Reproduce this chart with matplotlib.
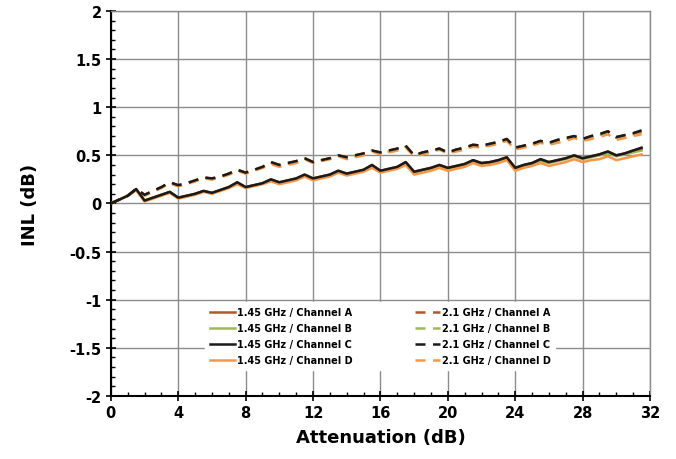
import matplotlib
matplotlib.use("Agg")
import matplotlib.pyplot as plt
from matplotlib.ticker import MultipleLocator

atten = [i * 0.5 for i in range(64)]

inl_145_a = [0.00, 0.04, 0.08, 0.15, 0.03, 0.06, 0.09, 0.12, 0.06, 0.08, 0.10, 0.13, 0.11, 0.14, 0.17, 0.22,
             0.17, 0.19, 0.21, 0.25, 0.22, 0.24, 0.26, 0.30, 0.26, 0.28, 0.30, 0.34, 0.31, 0.33, 0.35, 0.40,
             0.34, 0.36, 0.38, 0.43, 0.33, 0.35, 0.37, 0.40, 0.37, 0.39, 0.41, 0.45, 0.42, 0.43, 0.45, 0.48,
             0.37, 0.40, 0.42, 0.46, 0.43, 0.45, 0.47, 0.50, 0.47, 0.49, 0.51, 0.54, 0.50, 0.52, 0.55, 0.57]
inl_145_b = [0.00, 0.04, 0.08, 0.14, 0.03, 0.06, 0.09, 0.12, 0.06, 0.08, 0.10, 0.13, 0.11, 0.14, 0.17, 0.21,
             0.17, 0.19, 0.21, 0.25, 0.21, 0.23, 0.25, 0.29, 0.26, 0.28, 0.30, 0.33, 0.30, 0.32, 0.34, 0.39,
             0.33, 0.35, 0.37, 0.42, 0.32, 0.34, 0.36, 0.39, 0.36, 0.38, 0.40, 0.44, 0.41, 0.42, 0.44, 0.47,
             0.36, 0.39, 0.41, 0.44, 0.42, 0.44, 0.46, 0.49, 0.46, 0.48, 0.50, 0.52, 0.49, 0.51, 0.53, 0.55]
inl_145_c = [0.00, 0.04, 0.08, 0.15, 0.03, 0.06, 0.09, 0.12, 0.06, 0.08, 0.10, 0.13, 0.11, 0.14, 0.17, 0.22,
             0.17, 0.19, 0.21, 0.25, 0.22, 0.24, 0.26, 0.30, 0.26, 0.28, 0.30, 0.34, 0.31, 0.33, 0.35, 0.40,
             0.34, 0.36, 0.38, 0.43, 0.33, 0.35, 0.37, 0.40, 0.37, 0.39, 0.41, 0.45, 0.42, 0.43, 0.45, 0.48,
             0.37, 0.40, 0.42, 0.46, 0.43, 0.45, 0.47, 0.50, 0.47, 0.49, 0.51, 0.54, 0.50, 0.52, 0.55, 0.58]
inl_145_d = [0.00, 0.04, 0.08, 0.14, 0.02, 0.05, 0.08, 0.11, 0.05, 0.07, 0.09, 0.12, 0.10, 0.13, 0.16, 0.20,
             0.16, 0.18, 0.20, 0.23, 0.20, 0.22, 0.24, 0.28, 0.24, 0.26, 0.28, 0.32, 0.29, 0.31, 0.33, 0.37,
             0.32, 0.34, 0.36, 0.40, 0.30, 0.32, 0.34, 0.37, 0.34, 0.36, 0.38, 0.42, 0.39, 0.40, 0.42, 0.45,
             0.34, 0.37, 0.39, 0.42, 0.39, 0.41, 0.43, 0.46, 0.43, 0.45, 0.46, 0.49, 0.45, 0.47, 0.49, 0.51]

inl_21_a = [0.00, 0.04, 0.08, 0.15, 0.09, 0.13, 0.17, 0.22, 0.19, 0.21, 0.24, 0.27, 0.26, 0.28, 0.31, 0.35,
            0.32, 0.35, 0.38, 0.43, 0.40, 0.42, 0.44, 0.47, 0.43, 0.45, 0.47, 0.50, 0.48, 0.50, 0.52, 0.55,
            0.53, 0.55, 0.57, 0.60, 0.50, 0.53, 0.55, 0.57, 0.53, 0.56, 0.58, 0.61, 0.60, 0.62, 0.64, 0.67,
            0.58, 0.60, 0.62, 0.65, 0.63, 0.66, 0.68, 0.70, 0.67, 0.70, 0.72, 0.75, 0.69, 0.71, 0.73, 0.75]
inl_21_b = [0.00, 0.04, 0.08, 0.15, 0.09, 0.13, 0.17, 0.21, 0.18, 0.21, 0.23, 0.27, 0.25, 0.28, 0.30, 0.35,
            0.32, 0.35, 0.37, 0.42, 0.39, 0.41, 0.43, 0.47, 0.43, 0.45, 0.47, 0.50, 0.47, 0.49, 0.51, 0.55,
            0.52, 0.54, 0.56, 0.59, 0.50, 0.52, 0.54, 0.57, 0.53, 0.55, 0.57, 0.60, 0.59, 0.61, 0.63, 0.66,
            0.57, 0.59, 0.61, 0.64, 0.62, 0.65, 0.67, 0.69, 0.66, 0.69, 0.71, 0.74, 0.68, 0.70, 0.72, 0.74]
inl_21_c = [0.00, 0.04, 0.08, 0.15, 0.09, 0.13, 0.17, 0.22, 0.19, 0.21, 0.24, 0.27, 0.26, 0.28, 0.31, 0.35,
            0.32, 0.35, 0.38, 0.43, 0.40, 0.42, 0.44, 0.47, 0.43, 0.45, 0.47, 0.50, 0.48, 0.50, 0.52, 0.55,
            0.53, 0.55, 0.57, 0.60, 0.50, 0.53, 0.55, 0.57, 0.53, 0.56, 0.58, 0.61, 0.60, 0.62, 0.64, 0.67,
            0.58, 0.60, 0.62, 0.65, 0.63, 0.66, 0.68, 0.70, 0.67, 0.70, 0.72, 0.75, 0.69, 0.71, 0.73, 0.76]
inl_21_d = [0.00, 0.04, 0.08, 0.14, 0.08, 0.12, 0.16, 0.21, 0.18, 0.20, 0.23, 0.26, 0.25, 0.27, 0.30, 0.34,
            0.31, 0.34, 0.37, 0.41, 0.38, 0.40, 0.42, 0.46, 0.42, 0.44, 0.46, 0.49, 0.46, 0.48, 0.50, 0.54,
            0.51, 0.53, 0.55, 0.58, 0.49, 0.51, 0.53, 0.56, 0.52, 0.54, 0.56, 0.59, 0.58, 0.60, 0.62, 0.65,
            0.56, 0.58, 0.60, 0.63, 0.61, 0.63, 0.65, 0.68, 0.65, 0.67, 0.69, 0.72, 0.66, 0.68, 0.70, 0.72]

labels_145 = ["1.45 GHz / Channel A", "1.45 GHz / Channel B", "1.45 GHz / Channel C", "1.45 GHz / Channel D"]
labels_21 = ["2.1 GHz / Channel A", "2.1 GHz / Channel B", "2.1 GHz / Channel C", "2.1 GHz / Channel D"]
colors = ["#B5562B", "#9BBB59", "#1A1A1A", "#F79646"]

fig = plt.figure(figsize=(6.76, 4.6), dpi=100)
ax = fig.add_axes([0.164, 0.137, 0.7975, 0.837])

series_145 = [inl_145_a, inl_145_b, inl_145_c, inl_145_d]
series_21 = [inl_21_a, inl_21_b, inl_21_c, inl_21_d]
zorders = [3, 2, 5, 4]
h145, h21 = [], []
for vals, lab, col, z in zip(series_145, labels_145, colors, zorders):
    (ln,) = ax.plot(atten, vals, color=col, lw=1.8, label=lab, zorder=z)
    h145.append(ln)
for vals, lab, col, z in zip(series_21, labels_21, colors, zorders):
    (ln,) = ax.plot(atten, vals, color=col, lw=1.8, ls=(0, (4, 3)), label=lab, zorder=z)
    h21.append(ln)

ax.set_xlim(0, 32)
ax.set_ylim(-2, 2)
ax.xaxis.set_major_locator(MultipleLocator(4))
ax.xaxis.set_minor_locator(MultipleLocator(1))
ax.yaxis.set_major_locator(MultipleLocator(0.5))
ax.yaxis.set_minor_locator(MultipleLocator(0.1))
ax.set_yticks([-2, -1.5, -1, -0.5, 0, 0.5, 1, 1.5, 2])
ax.set_yticklabels(["-2", "-1.5", "-1", "-0.5", "0", "0.5", "1", "1.5", "2"])
ax.grid(True, which="major", color="#8C8C8C", lw=1.0, zorder=0)
ax.set_axisbelow(True)

for s in ["left", "bottom"]:
    ax.spines[s].set_color("black")
    ax.spines[s].set_linewidth(1.5)
for s in ["top", "right"]:
    ax.spines[s].set_color("#8C8C8C")
    ax.spines[s].set_linewidth(1.0)

ax.tick_params(axis="both", which="major", direction="inout", length=7, width=1.2,
               labelsize=10.5, pad=3)
ax.tick_params(axis="both", which="minor", direction="in", length=3, width=1.0)
for lbl in ax.get_xticklabels() + ax.get_yticklabels():
    lbl.set_fontweight("bold")

ax.set_xlabel("Attenuation (dB)", fontsize=13, fontweight="bold", labelpad=6)
ax.set_ylabel("INL (dB)", fontsize=13, fontweight="bold", labelpad=22)

leg = ax.legend(h145 + h21, labels_145 + labels_21, ncol=2, loc="lower center",
                bbox_to_anchor=(0.5, 0.055), frameon=True, fancybox=False,
                prop={"size": 7, "weight": "bold"}, handlelength=2.5, handletextpad=0.2,
                columnspacing=6.5, labelspacing=0.62, borderpad=0.5)
leg.get_frame().set_edgecolor("white")
leg.get_frame().set_alpha(1.0)

fig.savefig("out.png", dpi=100)
